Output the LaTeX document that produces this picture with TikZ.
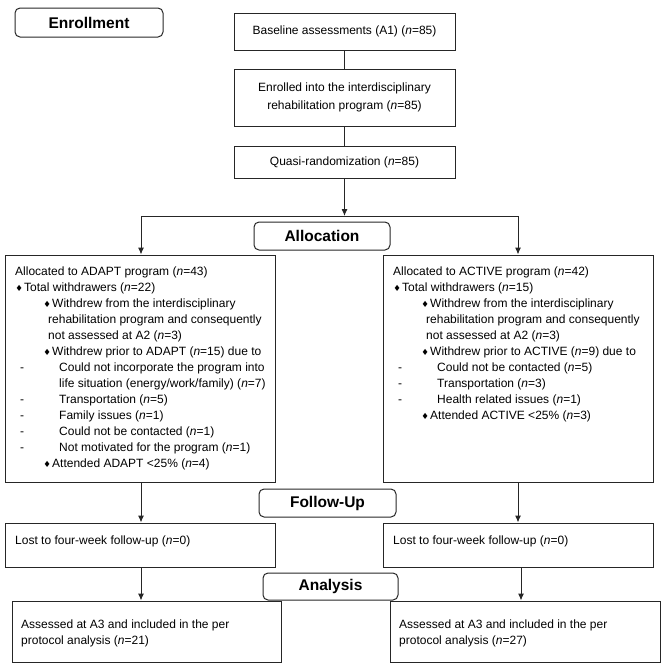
\documentclass[tikz,border=0pt]{standalone}
\usepackage{fontspec}
\setmainfont{Liberation Sans}
\newfontfamily\djv{DejaVu Sans}
\usetikzlibrary{arrows.meta}
\newcommand{\nn}{\textit{n}}
\newcommand{\dmd}{\makebox[0pt][c]{\djv\fontsize{8.5}{8.5}\selectfont ♦}}
\newcommand{\LA}[1]{\hbox{#1}}
\newcommand{\LB}[1]{\hbox{\hskip4pt\relax\dmd\hskip5pt\relax #1}}
\newcommand{\LC}[1]{\hbox{\hskip32pt\relax\dmd\hskip5pt\relax #1}}
\newcommand{\LD}[1]{\hbox{\hskip33pt\relax #1}}
\newcommand{\LE}[1]{\hbox{\hskip5pt\relax\makebox[39pt][l]{-}#1}}
\newcommand{\LF}[1]{\hbox{\hskip44pt\relax #1}}
\begin{document}
\begin{tikzpicture}[x=1pt,y=-1pt,
  box/.style={draw=black!85, line width=1pt, inner sep=0pt},
  head/.style={draw=black!85, line width=1pt, rounded corners=5pt, inner sep=0pt,
    font=\bfseries\fontsize{15.5}{18}\selectfont},
  body/.style={font=\fontsize{12}{18}\selectfont},
  txt/.style={inner sep=0pt, anchor=base west, font=\fontsize{12}{16}\selectfont},
  arr/.style={draw=black!85, line width=1pt, -{Latex[length=7pt,width=6pt]}},
  ln/.style={draw=black!85, line width=1pt}]
\useasboundingbox (0,0) rectangle (669,670);
% phase headings
\node[head, minimum width=148pt, minimum height=29pt] (enr) at (89,22.5) {Enrollment};
\node[head, minimum width=136pt, minimum height=28pt] (alloc) at (322,236) {Allocation};
\node[head, minimum width=137pt, minimum height=28pt] (fol) at (327.5,503) {Follow-Up};
\node[head, minimum width=135pt, minimum height=27pt] (ana) at (330.5,586.5) {Analysis};
% top column
\node[box, body, minimum width=221pt, minimum height=37pt] (base) at (344.5,31.5) {Baseline assessments (A1) (\nn=85)};
\node[box, body, align=center, minimum width=221pt, minimum height=57pt] (enrl) at (344.5,97.5) {Enrolled into the interdisciplinary\\rehabilitation program (\nn=85)};
\node[box, body, minimum width=221pt, minimum height=32pt] (quasi) at (344.5,162) {Quasi-randomization (\nn=85)};
% allocation boxes
\node[box, minimum width=270pt, minimum height=227pt] (bigL) at (140,368.5) {};
\node[box, minimum width=270pt, minimum height=227pt] (bigR) at (518,368.5) {};
\node[txt] (tL) at (15,275) {\vtop{%
\LA{Allocated to ADAPT program (\nn=43)}
\LB{Total withdrawers (\nn=22)}
\LC{Withdrew from the interdisciplinary}
\LD{rehabilitation program and consequently}
\LD{not assessed at A2 (\nn=3)}
\LC{Withdrew prior to ADAPT (\nn=15) due to}
\LE{Could not incorporate the program into}
\LF{life situation (energy/work/family) (\nn=7)}
\LE{Transportation (\nn=5)}
\LE{Family issues (\nn=1)}
\LE{Could not be contacted (\nn=1)}
\LE{Not motivated for the program (\nn=1)}
\LC{Attended ADAPT <25\% (\nn=4)}}};
\node[txt] (tR) at (393,275) {\vtop{%
\LA{Allocated to ACTIVE program (\nn=42)}
\LB{Total withdrawers (\nn=15)}
\LC{Withdrew from the interdisciplinary}
\LD{rehabilitation program and consequently}
\LD{not assessed at A2 (\nn=3)}
\LC{Withdrew prior to ACTIVE (\nn=9) due to}
\LE{Could not be contacted (\nn=5)}
\LE{Transportation (\nn=3)}
\LE{Health related issues (\nn=1)}
\LC{Attended ACTIVE <25\% (\nn=3)}}};
% follow-up
\node[box, minimum width=270pt, minimum height=44pt] (lostL) at (140,545) {};
\node[box, minimum width=270pt, minimum height=44pt] (lostR) at (518,545) {};
\node[txt] (tlL) at (15,544) {Lost to four-week follow-up (\nn=0)};
\node[txt] (tlR) at (393,544) {Lost to four-week follow-up (\nn=0)};
% analysis
\node[box, minimum width=269pt, minimum height=61pt] (assL) at (146.5,631.5) {};
\node[box, minimum width=270pt, minimum height=61pt] (assR) at (525,631.5) {};
\node[txt] (taL) at (21,628) {\vtop{\LA{Assessed at A3 and included in the per}\LA{protocol analysis (\nn=21)}}};
\node[txt] (taR) at (399,628) {\vtop{\LA{Assessed at A3 and included in the per}\LA{protocol analysis (\nn=27)}}};
% connectors
\coordinate (j) at (344.5,216);
\coordinate (jl) at (141,216);
\coordinate (jr) at (518,216);
\draw[ln] (base) -- (enrl);
\draw[ln] (enrl) -- (quasi);
\draw[arr] (quasi.south) -- (j);
\draw[ln] (jl) -- (jr);
\draw[arr] (jl) -- (jl |- bigL.north);
\draw[arr] (jr) -- (jr |- bigR.north);
\draw[arr] (bigL.south -| jl) -- (jl |- lostL.north);
\draw[arr] (bigR.south -| jr) -- (jr |- lostR.north);
\draw[arr] (lostL.south -| jl) -- (jl |- assL.north);
\draw[arr] ([xshift=3pt]lostR.south -| jr) -- ([xshift=3pt]jr |- assR.north);
\end{tikzpicture}
\end{document}
